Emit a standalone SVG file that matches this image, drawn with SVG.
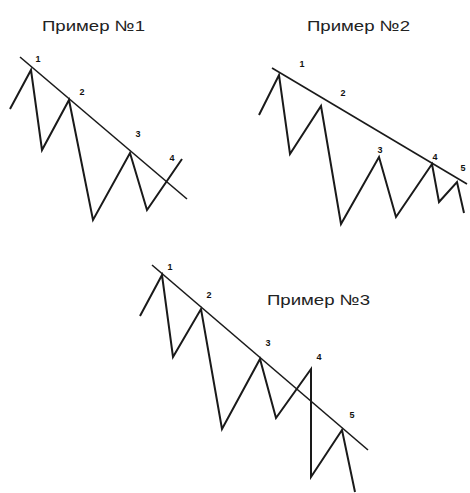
<svg xmlns="http://www.w3.org/2000/svg" width="470" height="493" viewBox="0 0 470 493">
<style>
.title{font-family:"Liberation Sans",Arial,sans-serif;font-size:15px;fill:#222}
.lbl{font-family:"Liberation Sans",Arial,sans-serif;font-size:9px;font-weight:bold;fill:#111;text-anchor:middle}
.zz{fill:none;stroke:#1a1a1a;stroke-width:2;stroke-linejoin:miter}
.tl{fill:none;stroke:#1a1a1a;stroke-width:1.6}
</style>
<rect width="470" height="493" fill="#fff"/>
<g id="example1">
<text class="title" x="42" y="31" textLength="103" lengthAdjust="spacingAndGlyphs">Пример №1</text>
<polyline class="zz" points="10,109 31,70 42,150 69,100 93,220 130,153 147,210 182,159"/>
<line class="tl" x1="20" y1="57" x2="187" y2="199"/>
<text class="lbl" x="38" y="62">1</text>
<text class="lbl" x="82" y="95">2</text>
<text class="lbl" x="138" y="137">3</text>
<text class="lbl" x="172" y="161" font-size="7">4</text>
</g>
<g id="example2">
<text class="title" x="307" y="31" textLength="103" lengthAdjust="spacingAndGlyphs">Пример №2</text>
<polyline class="zz" points="259,115 279,75 290,154 321,106 341,224 379,157 396,217 432,164 439,202 457,182 464,213"/>
<line class="tl" x1="272" y1="68" x2="467" y2="184"/>
<text class="lbl" x="302" y="67">1</text>
<text class="lbl" x="343" y="96">2</text>
<text class="lbl" x="380" y="153">3</text>
<text class="lbl" x="435" y="160" font-size="7">4</text>
<text class="lbl" x="463" y="171">5</text>
</g>
<g id="example3">
<text class="title" x="267" y="305" textLength="103" lengthAdjust="spacingAndGlyphs">Пример №3</text>
<polyline class="zz" points="140,316 162,275 173,357 201,309 222,429 260,359 276,418 311,369 311,477 342,430 355,492"/>
<line class="tl" x1="152" y1="265" x2="368" y2="450"/>
<text class="lbl" x="170" y="270">1</text>
<text class="lbl" x="209" y="298">2</text>
<text class="lbl" x="268" y="346">3</text>
<text class="lbl" x="319" y="360" font-size="7">4</text>
<text class="lbl" x="352" y="418">5</text>
</g>
</svg>
